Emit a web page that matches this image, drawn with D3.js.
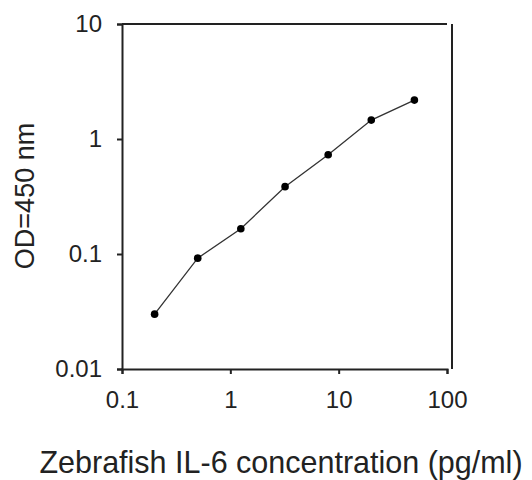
<!DOCTYPE html>
<html>
<head>
<meta charset="utf-8">
<script src="https://cdn.jsdelivr.net/npm/d3@7"></script>
<style>
  body { margin: 0; background: #fff; }
  text { font-family: "Liberation Sans", Arial, sans-serif; fill: #222; }
</style>
</head>
<body>
<div class="chart"></div>
<script>
// data
var concentration = [0.2, 0.5, 1.25, 3.2, 8, 20, 50];
var od = [0.030, 0.092, 0.166, 0.385, 0.73, 1.46, 2.18];
var xTicks = [0.1, 1, 10, 100];
var yTicks = [0.01, 0.1, 1, 10];
var xTickLabels = ["0.1", "1", "10", "100"];
var yTickLabels = ["0.01", "0.1", "1", "10"];

// dimensions
var margin = {top: 24, right: 85, bottom: 111, left: 122};
var width = 532 - margin.left - margin.right;
var height = 480 - margin.top - margin.bottom;

var x = d3.scaleLog().domain([0.1, 100]).range([0, width]);
var y = d3.scaleLog().domain([0.01, 10]).range([height, 0]);

var svg = d3.select(".chart")
  .append("svg")
  .attr("width", 532)
  .attr("height", 480);

var chart = svg.append("g")
  .attr("transform", "translate(" + margin.left + "," + margin.top + ")");

// x axis
var xAxis = chart.append("g")
  .attr("transform", "translate(0," + height + ")")
  .call(d3.axisBottom(x)
    .tickValues(xTicks)
    .tickFormat(function(d, i) { return xTickLabels[i]; })
    .tickSizeOuter(0)
    .tickSize(5)
    .tickPadding(17));

// y axis
var yAxis = chart.append("g")
  .call(d3.axisLeft(y)
    .tickValues(yTicks)
    .tickFormat(function(d, i) { return yTickLabels[i]; })
    .tickSizeOuter(0)
    .tickSize(5)
    .tickPadding(15));

[xAxis, yAxis].forEach(function(a) {
  a.selectAll("path, line").attr("stroke", "#222").attr("stroke-width", 2);
  a.selectAll("text").style("font-size", "24px").attr("fill", "#222");
});

// top and right frame lines
chart.append("line")
  .attr("x1", x(0.1)).attr("x2", x(100))
  .attr("y1", y(10)).attr("y2", y(10))
  .attr("stroke", "#222").attr("stroke-width", 2);
chart.append("line")
  .attr("x1", x(100) + 5).attr("x2", x(100) + 5)
  .attr("y1", y(10)).attr("y2", y(0.01))
  .attr("stroke", "#222").attr("stroke-width", 2);

// curve
var pts = concentration.map(function(c, i) { return [c, od[i]]; });
chart.append("path")
  .datum(pts)
  .attr("fill", "none")
  .attr("stroke", "#333")
  .attr("stroke-width", 1.3)
  .attr("d", d3.line()
    .x(function(d) { return x(d[0]); })
    .y(function(d) { return y(d[1]); }));

chart.selectAll(".dot")
  .data(pts)
  .enter()
  .append("circle")
  .attr("cx", function(d) { return x(d[0]); })
  .attr("cy", function(d) { return y(d[1]); })
  .attr("r", 3.8)
  .attr("fill", "#000");

// x label
svg.append("text")
  .attr("x", 281)
  .attr("y", 473)
  .attr("text-anchor", "middle")
  .style("font-size", "30.5px")
  .text("Zebrafish IL-6 concentration (pg/ml)");

// y label
svg.append("text")
  .attr("transform", "translate(34,196) rotate(-90)")
  .attr("text-anchor", "middle")
  .style("font-size", "27px")
  .text("OD=450 nm");
</script>
</body>
</html>
